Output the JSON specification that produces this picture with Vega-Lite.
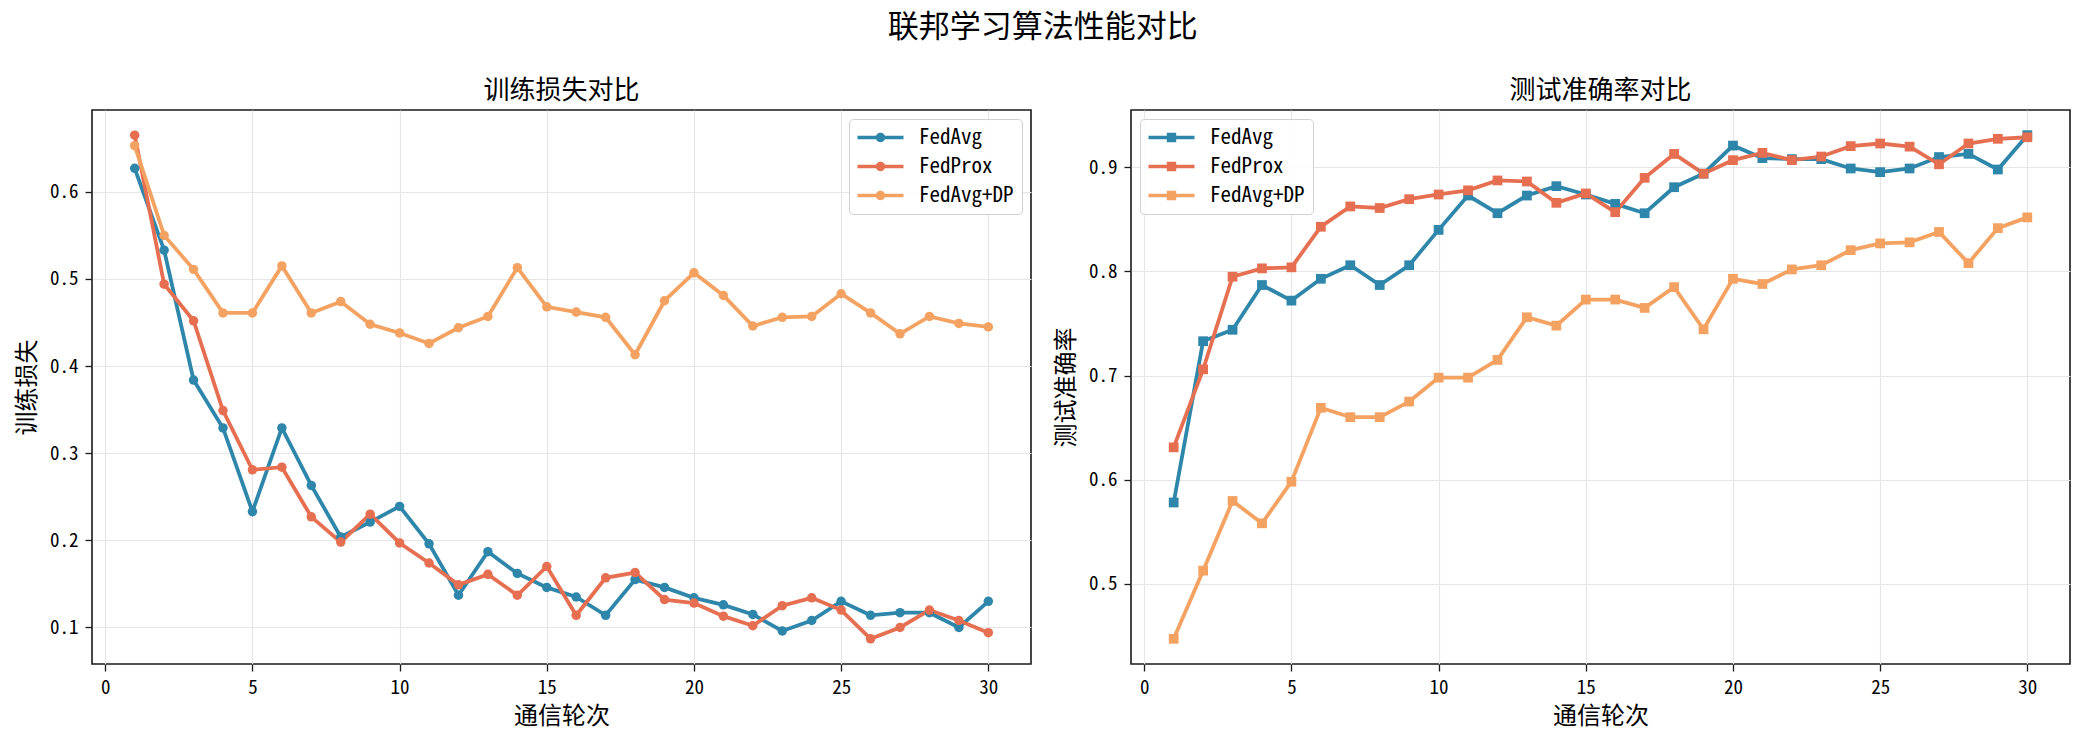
{
  "$schema": "https://vega.github.io/schema/vega-lite/v6.json",
  "padding": {"left": 14, "top": 12, "right": 5, "bottom": 5},
  "background": "white",
  "title": {
    "text": "联邦学习算法性能对比",
    "font": "Noto Sans CJK SC",
    "fontSize": 31,
    "fontWeight": "normal",
    "color": "#000000",
    "anchor": "middle",
    "offset": 33
  },
  "bounds": "flush",
  "spacing": 100,
  "resolve": {
    "scale": {"x": "independent", "y": "independent", "color": "independent", "stroke": "independent"},
    "legend": {"color": "independent"}
  },
  "datasets": {
    "loss": [
      {"round": 1, "algo": "FedAvg", "loss": 0.627}, {"round": 2, "algo": "FedAvg", "loss": 0.533}, {"round": 3, "algo": "FedAvg", "loss": 0.384},
      {"round": 4, "algo": "FedAvg", "loss": 0.329}, {"round": 5, "algo": "FedAvg", "loss": 0.233}, {"round": 6, "algo": "FedAvg", "loss": 0.329},
      {"round": 7, "algo": "FedAvg", "loss": 0.263}, {"round": 8, "algo": "FedAvg", "loss": 0.204}, {"round": 9, "algo": "FedAvg", "loss": 0.221},
      {"round": 10, "algo": "FedAvg", "loss": 0.239}, {"round": 11, "algo": "FedAvg", "loss": 0.196}, {"round": 12, "algo": "FedAvg", "loss": 0.137},
      {"round": 13, "algo": "FedAvg", "loss": 0.187}, {"round": 14, "algo": "FedAvg", "loss": 0.162}, {"round": 15, "algo": "FedAvg", "loss": 0.146},
      {"round": 16, "algo": "FedAvg", "loss": 0.135}, {"round": 17, "algo": "FedAvg", "loss": 0.114}, {"round": 18, "algo": "FedAvg", "loss": 0.155},
      {"round": 19, "algo": "FedAvg", "loss": 0.146}, {"round": 20, "algo": "FedAvg", "loss": 0.134}, {"round": 21, "algo": "FedAvg", "loss": 0.126},
      {"round": 22, "algo": "FedAvg", "loss": 0.115}, {"round": 23, "algo": "FedAvg", "loss": 0.096}, {"round": 24, "algo": "FedAvg", "loss": 0.108},
      {"round": 25, "algo": "FedAvg", "loss": 0.130}, {"round": 26, "algo": "FedAvg", "loss": 0.114}, {"round": 27, "algo": "FedAvg", "loss": 0.117},
      {"round": 28, "algo": "FedAvg", "loss": 0.117}, {"round": 29, "algo": "FedAvg", "loss": 0.100}, {"round": 30, "algo": "FedAvg", "loss": 0.130},
      {"round": 1, "algo": "FedProx", "loss": 0.665}, {"round": 2, "algo": "FedProx", "loss": 0.494}, {"round": 3, "algo": "FedProx", "loss": 0.452},
      {"round": 4, "algo": "FedProx", "loss": 0.349}, {"round": 5, "algo": "FedProx", "loss": 0.281}, {"round": 6, "algo": "FedProx", "loss": 0.284},
      {"round": 7, "algo": "FedProx", "loss": 0.227}, {"round": 8, "algo": "FedProx", "loss": 0.198}, {"round": 9, "algo": "FedProx", "loss": 0.230},
      {"round": 10, "algo": "FedProx", "loss": 0.197}, {"round": 11, "algo": "FedProx", "loss": 0.174}, {"round": 12, "algo": "FedProx", "loss": 0.149},
      {"round": 13, "algo": "FedProx", "loss": 0.161}, {"round": 14, "algo": "FedProx", "loss": 0.137}, {"round": 15, "algo": "FedProx", "loss": 0.170},
      {"round": 16, "algo": "FedProx", "loss": 0.114}, {"round": 17, "algo": "FedProx", "loss": 0.157}, {"round": 18, "algo": "FedProx", "loss": 0.163},
      {"round": 19, "algo": "FedProx", "loss": 0.132}, {"round": 20, "algo": "FedProx", "loss": 0.128}, {"round": 21, "algo": "FedProx", "loss": 0.113},
      {"round": 22, "algo": "FedProx", "loss": 0.102}, {"round": 23, "algo": "FedProx", "loss": 0.125}, {"round": 24, "algo": "FedProx", "loss": 0.134},
      {"round": 25, "algo": "FedProx", "loss": 0.120}, {"round": 26, "algo": "FedProx", "loss": 0.087}, {"round": 27, "algo": "FedProx", "loss": 0.100},
      {"round": 28, "algo": "FedProx", "loss": 0.120}, {"round": 29, "algo": "FedProx", "loss": 0.108}, {"round": 30, "algo": "FedProx", "loss": 0.094},
      {"round": 1, "algo": "FedAvg+DP", "loss": 0.653}, {"round": 2, "algo": "FedAvg+DP", "loss": 0.550}, {"round": 3, "algo": "FedAvg+DP", "loss": 0.511},
      {"round": 4, "algo": "FedAvg+DP", "loss": 0.461}, {"round": 5, "algo": "FedAvg+DP", "loss": 0.461}, {"round": 6, "algo": "FedAvg+DP", "loss": 0.515},
      {"round": 7, "algo": "FedAvg+DP", "loss": 0.461}, {"round": 8, "algo": "FedAvg+DP", "loss": 0.474}, {"round": 9, "algo": "FedAvg+DP", "loss": 0.448},
      {"round": 10, "algo": "FedAvg+DP", "loss": 0.438}, {"round": 11, "algo": "FedAvg+DP", "loss": 0.426}, {"round": 12, "algo": "FedAvg+DP", "loss": 0.444},
      {"round": 13, "algo": "FedAvg+DP", "loss": 0.457}, {"round": 14, "algo": "FedAvg+DP", "loss": 0.513}, {"round": 15, "algo": "FedAvg+DP", "loss": 0.468},
      {"round": 16, "algo": "FedAvg+DP", "loss": 0.462}, {"round": 17, "algo": "FedAvg+DP", "loss": 0.456}, {"round": 18, "algo": "FedAvg+DP", "loss": 0.413},
      {"round": 19, "algo": "FedAvg+DP", "loss": 0.475}, {"round": 20, "algo": "FedAvg+DP", "loss": 0.507}, {"round": 21, "algo": "FedAvg+DP", "loss": 0.481},
      {"round": 22, "algo": "FedAvg+DP", "loss": 0.446}, {"round": 23, "algo": "FedAvg+DP", "loss": 0.456}, {"round": 24, "algo": "FedAvg+DP", "loss": 0.457},
      {"round": 25, "algo": "FedAvg+DP", "loss": 0.483}, {"round": 26, "algo": "FedAvg+DP", "loss": 0.461}, {"round": 27, "algo": "FedAvg+DP", "loss": 0.437},
      {"round": 28, "algo": "FedAvg+DP", "loss": 0.457}, {"round": 29, "algo": "FedAvg+DP", "loss": 0.449}, {"round": 30, "algo": "FedAvg+DP", "loss": 0.445}
    ],
    "accuracy": [
      {"round": 1, "algo": "FedAvg", "acc": 0.578}, {"round": 2, "algo": "FedAvg", "acc": 0.733}, {"round": 3, "algo": "FedAvg", "acc": 0.744},
      {"round": 4, "algo": "FedAvg", "acc": 0.787}, {"round": 5, "algo": "FedAvg", "acc": 0.772}, {"round": 6, "algo": "FedAvg", "acc": 0.793},
      {"round": 7, "algo": "FedAvg", "acc": 0.806}, {"round": 8, "algo": "FedAvg", "acc": 0.787}, {"round": 9, "algo": "FedAvg", "acc": 0.806},
      {"round": 10, "algo": "FedAvg", "acc": 0.840}, {"round": 11, "algo": "FedAvg", "acc": 0.873}, {"round": 12, "algo": "FedAvg", "acc": 0.856},
      {"round": 13, "algo": "FedAvg", "acc": 0.873}, {"round": 14, "algo": "FedAvg", "acc": 0.882}, {"round": 15, "algo": "FedAvg", "acc": 0.874},
      {"round": 16, "algo": "FedAvg", "acc": 0.865}, {"round": 17, "algo": "FedAvg", "acc": 0.856}, {"round": 18, "algo": "FedAvg", "acc": 0.881},
      {"round": 19, "algo": "FedAvg", "acc": 0.894}, {"round": 20, "algo": "FedAvg", "acc": 0.921}, {"round": 21, "algo": "FedAvg", "acc": 0.909},
      {"round": 22, "algo": "FedAvg", "acc": 0.908}, {"round": 23, "algo": "FedAvg", "acc": 0.908}, {"round": 24, "algo": "FedAvg", "acc": 0.899},
      {"round": 25, "algo": "FedAvg", "acc": 0.8955}, {"round": 26, "algo": "FedAvg", "acc": 0.899}, {"round": 27, "algo": "FedAvg", "acc": 0.910},
      {"round": 28, "algo": "FedAvg", "acc": 0.913}, {"round": 29, "algo": "FedAvg", "acc": 0.898}, {"round": 30, "algo": "FedAvg", "acc": 0.931},
      {"round": 1, "algo": "FedProx", "acc": 0.631}, {"round": 2, "algo": "FedProx", "acc": 0.706}, {"round": 3, "algo": "FedProx", "acc": 0.795},
      {"round": 4, "algo": "FedProx", "acc": 0.803}, {"round": 5, "algo": "FedProx", "acc": 0.804}, {"round": 6, "algo": "FedProx", "acc": 0.843},
      {"round": 7, "algo": "FedProx", "acc": 0.8625}, {"round": 8, "algo": "FedProx", "acc": 0.861}, {"round": 9, "algo": "FedProx", "acc": 0.8695},
      {"round": 10, "algo": "FedProx", "acc": 0.874}, {"round": 11, "algo": "FedProx", "acc": 0.878}, {"round": 12, "algo": "FedProx", "acc": 0.8875},
      {"round": 13, "algo": "FedProx", "acc": 0.8865}, {"round": 14, "algo": "FedProx", "acc": 0.866}, {"round": 15, "algo": "FedProx", "acc": 0.875},
      {"round": 16, "algo": "FedProx", "acc": 0.857}, {"round": 17, "algo": "FedProx", "acc": 0.890}, {"round": 18, "algo": "FedProx", "acc": 0.913},
      {"round": 19, "algo": "FedProx", "acc": 0.894}, {"round": 20, "algo": "FedProx", "acc": 0.907}, {"round": 21, "algo": "FedProx", "acc": 0.914},
      {"round": 22, "algo": "FedProx", "acc": 0.907}, {"round": 23, "algo": "FedProx", "acc": 0.9105}, {"round": 24, "algo": "FedProx", "acc": 0.9205},
      {"round": 25, "algo": "FedProx", "acc": 0.923}, {"round": 26, "algo": "FedProx", "acc": 0.920}, {"round": 27, "algo": "FedProx", "acc": 0.903},
      {"round": 28, "algo": "FedProx", "acc": 0.923}, {"round": 29, "algo": "FedProx", "acc": 0.9275}, {"round": 30, "algo": "FedProx", "acc": 0.929},
      {"round": 1, "algo": "FedAvg+DP", "acc": 0.447}, {"round": 2, "algo": "FedAvg+DP", "acc": 0.5125}, {"round": 3, "algo": "FedAvg+DP", "acc": 0.5795},
      {"round": 4, "algo": "FedAvg+DP", "acc": 0.558}, {"round": 5, "algo": "FedAvg+DP", "acc": 0.598}, {"round": 6, "algo": "FedAvg+DP", "acc": 0.669},
      {"round": 7, "algo": "FedAvg+DP", "acc": 0.660}, {"round": 8, "algo": "FedAvg+DP", "acc": 0.660}, {"round": 9, "algo": "FedAvg+DP", "acc": 0.675},
      {"round": 10, "algo": "FedAvg+DP", "acc": 0.698}, {"round": 11, "algo": "FedAvg+DP", "acc": 0.698}, {"round": 12, "algo": "FedAvg+DP", "acc": 0.715},
      {"round": 13, "algo": "FedAvg+DP", "acc": 0.756}, {"round": 14, "algo": "FedAvg+DP", "acc": 0.748}, {"round": 15, "algo": "FedAvg+DP", "acc": 0.773},
      {"round": 16, "algo": "FedAvg+DP", "acc": 0.773}, {"round": 17, "algo": "FedAvg+DP", "acc": 0.765}, {"round": 18, "algo": "FedAvg+DP", "acc": 0.785},
      {"round": 19, "algo": "FedAvg+DP", "acc": 0.7445}, {"round": 20, "algo": "FedAvg+DP", "acc": 0.793}, {"round": 21, "algo": "FedAvg+DP", "acc": 0.788},
      {"round": 22, "algo": "FedAvg+DP", "acc": 0.802}, {"round": 23, "algo": "FedAvg+DP", "acc": 0.806}, {"round": 24, "algo": "FedAvg+DP", "acc": 0.8205},
      {"round": 25, "algo": "FedAvg+DP", "acc": 0.827}, {"round": 26, "algo": "FedAvg+DP", "acc": 0.828}, {"round": 27, "algo": "FedAvg+DP", "acc": 0.838},
      {"round": 28, "algo": "FedAvg+DP", "acc": 0.808}, {"round": 29, "algo": "FedAvg+DP", "acc": 0.8417}, {"round": 30, "algo": "FedAvg+DP", "acc": 0.852}
    ]
  },
  "config": {
    "font": "Noto Sans CJK SC",
    "view": {"stroke": "#1a1a1a", "strokeWidth": 1.6},
    "axis": {
      "domain": false,
      "grid": true,
      "gridColor": "#e6e6e6",
      "gridWidth": 1.2,
      "ticks": true,
      "tickColor": "#1a1a1a",
      "tickSize": 7,
      "tickWidth": 1.3,
      "labelFont": "Noto Sans Mono CJK SC, DejaVu Sans Mono",
      "labelFontSize": 19,
      "labelColor": "#000000",
      "labelPadding": 7,
      "titleFont": "Noto Sans CJK SC",
      "titleFontSize": 24,
      "titleFontWeight": "normal",
      "titleColor": "#000000"
    },
    "axisX": {"titlePadding": 7},
    "axisY": {"titlePadding": 10},
    "title": {"font": "Noto Sans CJK SC", "fontWeight": "normal", "color": "#000000"},
    "legend": {
      "labelFont": "Noto Sans Mono CJK SC, DejaVu Sans Mono",
      "labelFontSize": 21,
      "labelColor": "#000000",
      "symbolSize": 400,
      "symbolOffset": 13,
      "labelOffset": 28,
      "symbolStrokeWidth": 0,
      "symbolOpacity": 1,
      "rowPadding": 7,
      "padding": 8,
      "strokeColor": "#d0d0d0",
      "fillColor": "rgba(255,255,255,0.85)",
      "cornerRadius": 4,
      "offset": 9
    }
  },
  "hconcat": [
    {
      "width": 939,
      "height": 554,
      "title": {"text": "训练损失对比", "fontSize": 26, "offset": 6},
      "data": {"name": "loss"},
      "encoding": {
        "x": {
          "field": "round", "type": "quantitative", "title": "通信轮次",
          "scale": {"domain": [-0.45, 31.45], "nice": false, "zero": false},
          "axis": {"values": [0, 5, 10, 15, 20, 25, 30], "format": "d"}
        },
        "y": {
          "field": "loss", "type": "quantitative", "title": "训练损失",
          "scale": {"domain": [0.0581, 0.6939], "nice": false, "zero": false},
          "axis": {"values": [0.1, 0.2, 0.3, 0.4, 0.5, 0.6], "format": ".1f"}
        }
      },
      "layer": [
        {
          "mark": {"type": "line", "strokeWidth": 3.8},
          "encoding": {
            "stroke": {
              "field": "algo", "type": "nominal",
              "scale": {"domain": ["FedAvg", "FedAvg+DP", "FedProx"], "range": ["#2E86AB", "#F4A261", "#E76F51"]},
              "legend": null
            }
          }
        },
        {
          "mark": {"type": "point", "filled": true, "shape": "circle", "size": 90, "opacity": 1},
          "encoding": {
            "color": {
              "field": "algo", "type": "nominal",
              "scale": {"domain": ["FedAvg", "FedProx", "FedAvg+DP"], "range": ["#2E86AB", "#E76F51", "#F4A261"]},
              "legend": {
                "title": null,
                "orient": "top-right",
                "symbolType": "M-2.3,-0.17L2.3,-0.17L2.3,0.17L-2.3,0.17Z M0.47,0A0.47,0.47 0 1,1 -0.47,0A0.47,0.47 0 1,1 0.47,0Z"
              }
            }
          }
        }
      ]
    },
    {
      "width": 939,
      "height": 554,
      "title": {"text": "测试准确率对比", "fontSize": 26, "offset": 6},
      "data": {"name": "accuracy"},
      "encoding": {
        "x": {
          "field": "round", "type": "quantitative", "title": "通信轮次",
          "scale": {"domain": [-0.45, 31.45], "nice": false, "zero": false},
          "axis": {"values": [0, 5, 10, 15, 20, 25, 30], "format": "d"}
        },
        "y": {
          "field": "acc", "type": "quantitative", "title": "测试准确率",
          "scale": {"domain": [0.4228, 0.9552], "nice": false, "zero": false},
          "axis": {"values": [0.5, 0.6, 0.7, 0.8, 0.9], "format": ".1f"}
        }
      },
      "layer": [
        {
          "mark": {"type": "line", "strokeWidth": 3.8},
          "encoding": {
            "stroke": {
              "field": "algo", "type": "nominal",
              "scale": {"domain": ["FedAvg", "FedAvg+DP", "FedProx"], "range": ["#2E86AB", "#F4A261", "#E76F51"]},
              "legend": null
            }
          }
        },
        {
          "mark": {"type": "point", "filled": true, "shape": "square", "size": 95, "opacity": 1},
          "encoding": {
            "color": {
              "field": "algo", "type": "nominal",
              "scale": {"domain": ["FedAvg", "FedProx", "FedAvg+DP"], "range": ["#2E86AB", "#E76F51", "#F4A261"]},
              "legend": {
                "title": null,
                "orient": "top-left",
                "symbolType": "M-2.3,-0.17L2.3,-0.17L2.3,0.17L-2.3,0.17Z M-0.47,-0.47L0.47,-0.47L0.47,0.47L-0.47,0.47Z"
              }
            }
          }
        }
      ]
    }
  ]
}
